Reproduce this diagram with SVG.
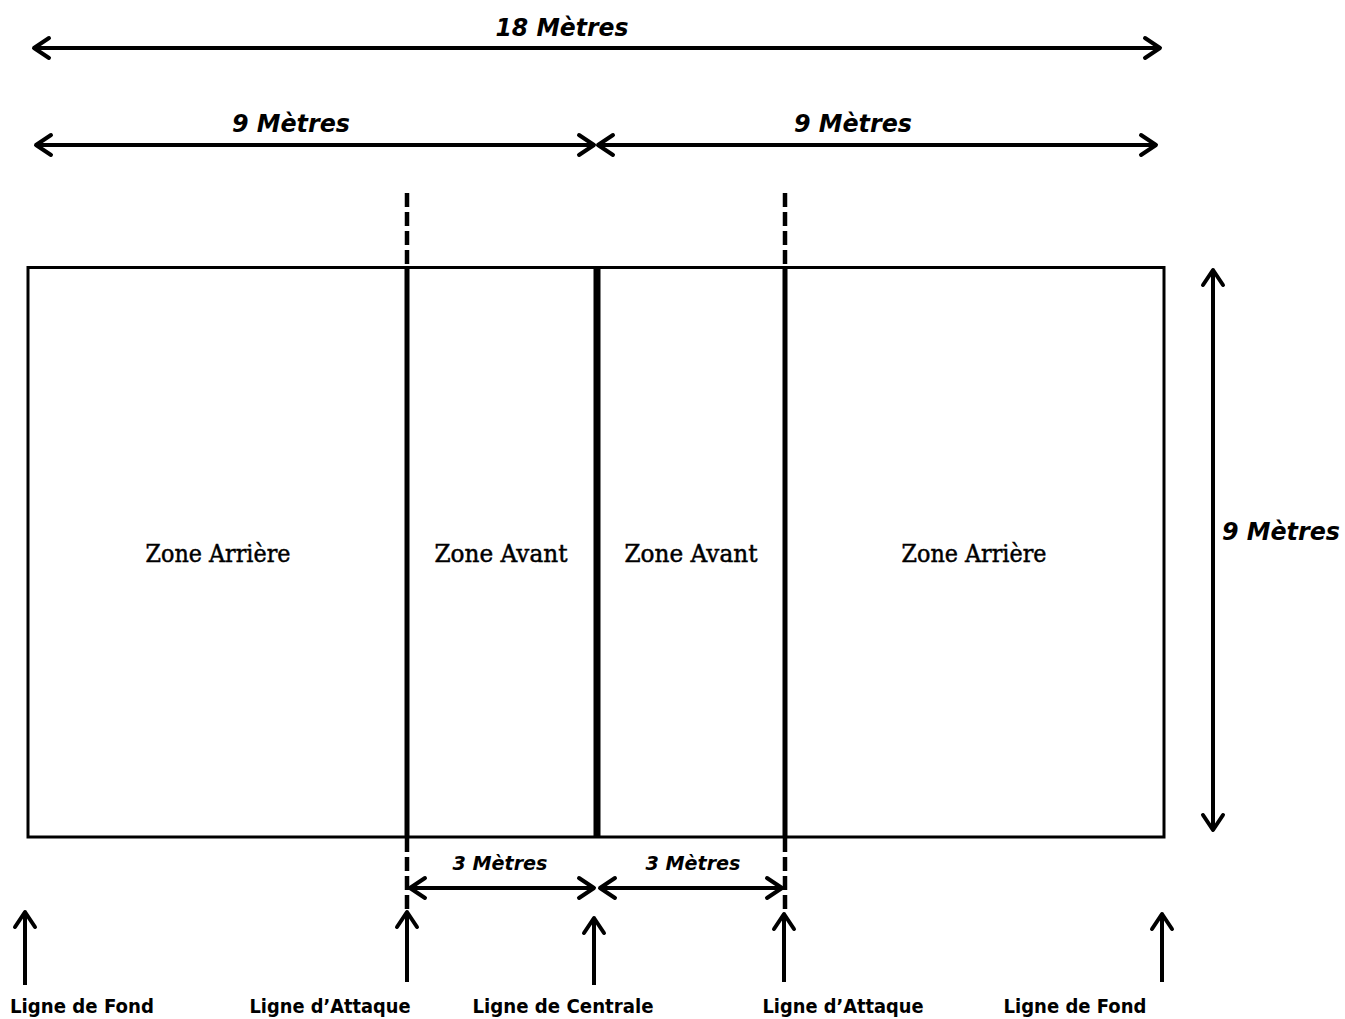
<svg xmlns="http://www.w3.org/2000/svg" width="1345" height="1019" viewBox="0 0 1345 1019">
<style>
.dim{font-family:"DejaVu Sans","Liberation Sans",sans-serif;font-weight:bold;font-style:italic;fill:#000}
.lbl{font-family:"DejaVu Sans","Liberation Sans",sans-serif;font-weight:bold;font-size:19px;fill:#000}
.zone{font-family:"DejaVu Serif","Liberation Serif",serif;font-size:24px;fill:#000;stroke:#000;stroke-width:0.5}
.arr{stroke:#000;stroke-width:4;fill:none;marker-end:url(#ah)}
.arr2{stroke:#000;stroke-width:4;fill:none;marker-start:url(#ah);marker-end:url(#ah)}
.dash{stroke:#000;stroke-width:4.5;stroke-dasharray:14 5;fill:none}
</style>
<defs>
<marker id="ah" markerUnits="userSpaceOnUse" viewBox="-20 -14 24 28" refX="0" refY="0" markerWidth="24" markerHeight="28" orient="auto-start-reverse">
<path d="M -15 -10 L 0 0 L -15 10" fill="none" stroke="#000" stroke-width="4" stroke-linecap="round" stroke-linejoin="round"/>
</marker>
</defs>
<rect width="1345" height="1019" fill="#fff"/>
<g id="court">
<rect x="28" y="267.5" width="1136" height="569.5" fill="none" stroke="#000" stroke-width="3"/>
<line x1="407" y1="267" x2="407" y2="837" stroke="#000" stroke-width="5"/>
<line x1="785" y1="267" x2="785" y2="837" stroke="#000" stroke-width="5"/>
<line x1="597" y1="267" x2="597" y2="837" stroke="#000" stroke-width="7"/>
</g>
<g id="zones">
<text class="zone" x="218" y="562" text-anchor="middle" textLength="145" lengthAdjust="spacingAndGlyphs">Zone Arrière</text>
<text class="zone" x="501" y="562" text-anchor="middle" textLength="133" lengthAdjust="spacingAndGlyphs">Zone Avant</text>
<text class="zone" x="691" y="562" text-anchor="middle" textLength="133" lengthAdjust="spacingAndGlyphs">Zone Avant</text>
<text class="zone" x="974" y="562" text-anchor="middle" textLength="145" lengthAdjust="spacingAndGlyphs">Zone Arrière</text>
</g>
<g id="connectors">
<line class="dash" x1="407" y1="193" x2="407" y2="267"/>
<line class="dash" x1="785" y1="193" x2="785" y2="267"/>
<line class="dash" x1="407" y1="838" x2="407" y2="912"/>
<line class="dash" x1="785" y1="838" x2="785" y2="912"/>
<line class="arr2" x1="34" y1="48" x2="1160" y2="48"/>
<line class="arr2" x1="36" y1="145" x2="594" y2="145"/>
<line class="arr2" x1="598" y1="145" x2="1156" y2="145"/>
<line class="arr2" x1="1213" y1="270" x2="1213" y2="830"/>
<line class="arr2" x1="410" y1="888" x2="594" y2="888"/>
<line class="arr2" x1="600" y1="888" x2="782" y2="888"/>
<line class="arr" x1="25" y1="985" x2="25" y2="912"/>
<line class="arr" x1="407" y1="982" x2="407" y2="912"/>
<line class="arr" x1="594" y1="985" x2="594" y2="918"/>
<line class="arr" x1="784" y1="982" x2="784" y2="914"/>
<line class="arr" x1="1162" y1="982" x2="1162" y2="914"/>
</g>
<g id="dimensions">
<text class="dim" x="562" y="36" font-size="24" text-anchor="middle" textLength="133" lengthAdjust="spacingAndGlyphs">18 Mètres</text>
<text class="dim" x="291" y="132" font-size="24" text-anchor="middle" textLength="118" lengthAdjust="spacingAndGlyphs">9 Mètres</text>
<text class="dim" x="853" y="132" font-size="24" text-anchor="middle" textLength="118" lengthAdjust="spacingAndGlyphs">9 Mètres</text>
<text class="dim" x="1281" y="540" font-size="24" text-anchor="middle" textLength="118" lengthAdjust="spacingAndGlyphs">9 Mètres</text>
<text class="dim" x="500" y="870" font-size="19" text-anchor="middle" textLength="95" lengthAdjust="spacingAndGlyphs">3 Mètres</text>
<text class="dim" x="693" y="870" font-size="19" text-anchor="middle" textLength="95" lengthAdjust="spacingAndGlyphs">3 Mètres</text>
</g>
<g id="labels">
<text class="lbl" x="82" y="1013" text-anchor="middle" textLength="144" lengthAdjust="spacingAndGlyphs">Ligne de Fond</text>
<text class="lbl" x="330" y="1013" text-anchor="middle" textLength="161" lengthAdjust="spacingAndGlyphs">Ligne d’Attaque</text>
<text class="lbl" x="563" y="1013" text-anchor="middle" textLength="181" lengthAdjust="spacingAndGlyphs">Ligne de Centrale</text>
<text class="lbl" x="843" y="1013" text-anchor="middle" textLength="161" lengthAdjust="spacingAndGlyphs">Ligne d’Attaque</text>
<text class="lbl" x="1075" y="1013" text-anchor="middle" textLength="143" lengthAdjust="spacingAndGlyphs">Ligne de Fond</text>
</g>
</svg>
